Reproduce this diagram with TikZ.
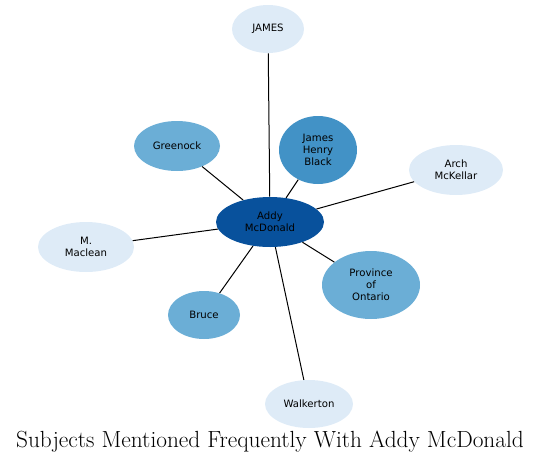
\documentclass[tikz,border=0pt]{standalone}
\usepackage{fontspec}
\newfontfamily\nodefont{DejaVu Sans}
\usetikzlibrary{shapes.geometric}
\definecolor{c1}{HTML}{08519C}
\definecolor{c2}{HTML}{4292C6}
\definecolor{c3}{HTML}{6BAED6}
\definecolor{c4}{HTML}{DEEBF7}
\tikzset{
  ent/.style={ellipse, inner sep=0pt, draw=none, align=center,
    font=\nodefont\fontsize{7.6}{9}\selectfont, text=black},
  esz/.style 2 args={minimum width=#1*1.5pt, minimum height=#2*1.5pt},
  edge/.style={draw=black, line width=0.75pt}
}
\begin{document}
\begin{tikzpicture}[x=0.75pt,y=-0.75pt]
\useasboundingbox (0,0) rectangle (541,464);
\node[ent, fill=c1, esz={54}{25}] (addy) at (270,222) {Addy\\McDonald};
\node[ent, fill=c4, esz={36}{24}] (james) at (268,29) {JAMES};
\node[ent, fill=c2, esz={39}{34}] (jhb) at (318,150) {James\\Henry\\Black};
\node[ent, fill=c3, esz={43}{25}] (greenock) at (177,146) {Greenock};
\node[ent, fill=c4, esz={47}{25}] (arch) at (456,170) {Arch\\McKellar};
\node[ent, fill=c4, esz={48}{25}] (maclean) at (86,247) {M.\\Maclean};
\node[ent, fill=c3, esz={36}{24}] (bruce) at (204,315) {Bruce};
\node[ent, fill=c3, esz={49}{34}] (ontario) at (371,285) {Province\\of\\Ontario};
\node[ent, fill=c4, esz={44}{24}] (walkerton) at (309,404) {Walkerton};
\foreach \t in {james,jhb,greenock,arch,maclean,bruce,ontario,walkerton}
  \draw[edge] (addy) -- (\t);
\node[font=\fontsize{17.5}{20}\selectfont, inner sep=0pt] (title) at (270,442) {Subjects Mentioned Frequently With Addy McDonald};
\end{tikzpicture}
\end{document}
